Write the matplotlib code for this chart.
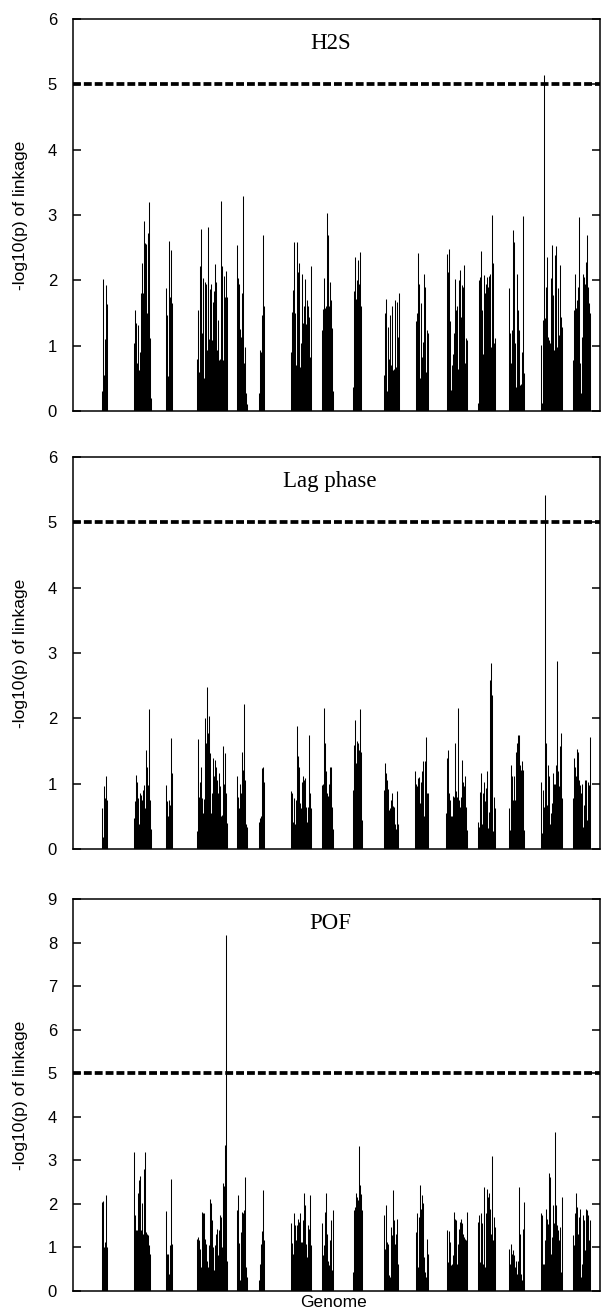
import matplotlib
matplotlib.use('Agg')

import matplotlib.pyplot as plt
import numpy as np

plt.rcParams['font.family'] = ['Liberation Sans', 'DejaVu Sans']

# chromosome blocks along the genome axis (same units as the x axis)
chrom_start = [28, 60, 92, 123, 163, 185, 217, 248, 279, 310, 342, 373, 404, 435, 467, 499]
chrom_end = [34, 78, 99, 154, 174, 191, 238, 260, 289, 326, 355, 394, 422, 451, 489, 517]
genome_len = 527
threshold = 5

# -log10(p) per marker, one list per chromosome
h2s = [
    [0.3, 2.02, 0.55, 1.1, 1.93, 1.64],
    [1.04, 1.55, 1.34, 0.73, 1.32, 0.63, 0.9, 1.8, 2.27, 1.8, 2.91, 2.57, 2.55, 1.5, 2.72, 3.2, 1.11, 0.2],
    [1.88, 1.47, 0.53, 2.6, 1.75, 2.47, 1.65],
    [0.8, 1.55, 0.6, 2.22, 2.78, 1.19, 2.04, 0.5, 1.98, 1.95, 0.93, 2.82, 1.1, 1.86, 1.95, 1.09,
     1.67, 1.83, 2.25, 1.98, 0.93, 1.4, 0.78, 0.8, 3.22, 2.22, 0.78, 2.06, 1.75, 2.15, 1.75],
    [2.54, 2.03, 1.94, 1.25, 1.14, 1.8, 3.29, 0.73, 0.98, 0.27, 0.1],
    [0.27, 0.93, 0.9, 1.47, 2.7, 1.6],
    [0.9, 1.52, 1.85, 2.58, 1.5, 0.7, 2.58, 2.13, 2.27, 0.68, 1.04, 2.1, 1.34, 1.6, 2.02, 1.33,
     1.7, 1.6, 1.44, 0.82, 2.22],
    [1.24, 1.56, 2.03, 1.57, 1.6, 3.03, 2.7, 1.6, 1.97, 1.7, 1.27, 0.3],
    [0.37, 1.83, 2.36, 1.72, 2.0, 2.31, 1.95, 2.43, 1.6],
    [0.55, 1.5, 1.71, 0.3, 1.29, 0.8, 1.47, 0.7, 1.6, 0.63, 0.65, 1.7, 0.68, 1.67, 1.14, 1.8],
    [1.38, 1.5, 2.42, 1.95, 0.5, 1.65, 0.83, 1.06, 2.09, 1.9, 0.6, 1.24, 1.19],
    [2.4, 2.13, 2.48, 1.37, 0.32, 0.7, 0.88, 1.2, 2.02, 1.55, 1.61, 0.65, 2.0, 2.16, 1.44, 1.93,
     1.9, 2.23, 0.73, 1.11, 1.09],
    [0.12, 2.0, 2.05, 2.45, 1.55, 0.88, 2.08, 1.81, 1.95, 2.05, 1.9, 2.06, 2.1, 0.98, 3.0, 2.26,
     1.04, 1.11],
    [1.88, 1.19, 0.73, 1.24, 2.77, 2.59, 1.04, 0.37, 2.1, 1.55, 1.24, 0.4, 0.42, 0.9, 2.98, 0.58],
    [1.01, 0.12, 1.39, 5.15, 1.42, 1.9, 2.36, 1.14, 1.09, 1.04, 2.03, 2.54, 1.78, 0.93, 2.39, 2.53,
     0.98, 1.88, 1.16, 2.23, 1.44, 1.29],
    [0.78, 1.55, 2.1, 1.57, 1.7, 1.9, 2.97, 0.73, 0.27, 1.14, 2.1, 2.05, 1.95, 2.28, 2.7, 1.9,
     1.65, 1.5],
]

lag_phase = [
    [0.62, 0.19, 0.97, 0.78, 1.12, 0.75],
    [0.47, 0.73, 1.14, 1.03, 0.78, 0.39, 0.85, 0.83, 0.75, 0.9, 0.98, 0.62, 1.52, 1.26, 0.98, 2.15, 0.75, 0.3],
    [0.98, 0.73, 0.5, 0.75, 0.67, 1.7, 1.16],
    [0.28, 1.68, 0.8, 1.03, 1.26, 0.78, 0.55, 0.76, 2.0, 1.62, 2.48, 1.77, 2.03, 1.47, 0.55, 0.85,
     1.4, 1.11, 1.36, 1.26, 1.06, 0.85, 1.16, 0.96, 0.5, 0.52, 1.57, 1.0, 1.47, 0.85, 0.4],
    [1.11, 0.8, 0.62, 1.0, 0.85, 1.49, 1.21, 2.22, 1.06, 0.39, 0.34],
    [0.42, 0.47, 0.5, 1.24, 1.26, 1.03],
    [0.89, 0.85, 0.42, 0.78, 0.39, 0.75, 1.88, 1.42, 1.26, 0.7, 0.62, 1.03, 1.11, 1.06, 1.08, 0.65,
     0.42, 0.65, 1.74, 0.85, 0.62],
    [0.98, 1.0, 2.16, 1.62, 1.19, 0.85, 0.81, 1.0, 1.26, 1.25, 0.65, 0.3],
    [0.9, 1.59, 1.98, 1.31, 1.65, 1.62, 1.52, 2.15, 1.49, 0.45],
    [0.9, 1.31, 1.17, 1.06, 0.92, 0.6, 0.62, 0.75, 0.85, 0.66, 0.65, 0.39, 0.3, 0.89, 0.39],
    [1.2, 1.0, 0.96, 1.08, 1.1, 0.7, 1.03, 1.19, 1.34, 0.5, 1.34, 1.72, 0.85, 0.85],
    [0.55, 1.4, 1.52, 0.85, 0.75, 0.5, 0.51, 0.81, 0.8, 1.63, 0.89, 0.8, 2.16, 0.75, 0.65, 0.8,
     1.36, 1.03, 0.96, 1.12, 0.65, 0.29],
    [0.42, 0.34, 0.88, 1.16, 0.39, 0.85, 1.03, 0.73, 0.93, 1.2, 0.32, 0.56, 2.59, 2.84, 2.36, 0.27,
     0.79, 0.62],
    [0.62, 0.29, 1.29, 1.11, 0.75, 1.11, 0.75, 1.49, 1.62, 1.75, 1.75, 1.29, 1.21, 1.34, 1.21, 0.29],
    [1.02, 0.24, 0.9, 0.65, 5.42, 1.62, 0.67, 1.29, 1.11, 0.39, 0.55, 0.7, 1.16, 1.0, 0.99, 1.29,
     2.88, 1.19, 0.96, 1.57, 1.77, 0.78],
    [0.78, 1.4, 1.26, 1.11, 1.53, 1.49, 1.06, 0.98, 0.85, 0.99, 0.34, 0.67, 1.06, 1.05, 0.45, 1.03,
     0.98, 1.71],
]

pof = [
    [2.05, 2.07, 1.01, 1.13, 2.2, 1.01],
    [3.2, 1.74, 1.39, 1.39, 2.24, 2.54, 2.64, 1.39, 2.01, 1.32, 2.79, 3.2, 1.36, 1.32, 1.28, 1.05, 0.86],
    [1.83, 0.86, 0.84, 0.4, 1.05, 2.58, 1.09],
    [1.2, 1.24, 1.16, 0.97, 0.55, 1.82, 1.78, 1.78, 1.2, 1.09, 0.7, 0.55, 1.05, 2.12, 2.01, 1.64,
     1.01, 0.48, 1.05, 1.32, 1.43, 0.82, 1.39, 1.74, 1.7, 1.01, 2.48, 2.41, 3.35, 8.18, 0.7],
    [1.85, 2.2, 1.1, 0.25, 1.36, 1.82, 1.78, 1.85, 2.62, 0.55, 0.32],
    [0.25, 0.63, 1.09, 1.38, 2.31, 1.16],
    [1.56, 1.1, 0.86, 1.78, 1.51, 1.16, 1.51, 1.66, 1.59, 1.78, 1.13, 1.13, 1.62, 2.26, 1.97, 1.09,
     0.78, 1.51, 1.43, 2.21, 1.05],
    [1.56, 0.82, 1.05, 1.82, 2.25, 1.32, 0.7, 0.59, 1.16, 1.62, 0.48, 1.87],
    [0.44, 1.85, 1.93, 2.24, 2.16, 2.08, 3.33, 2.44, 2.22, 1.85],
    [1.74, 0.97, 1.97, 1.13, 1.09, 0.36, 0.32, 1.47, 1.28, 2.33, 1.62, 1.09, 1.32, 1.66, 0.63],
    [1.36, 1.78, 0.55, 1.7, 2.43, 1.89, 2.2, 2.01, 0.78, 0.44, 0.32, 1.2, 0.86],
    [1.39, 0.67, 1.37, 1.13, 0.59, 0.63, 0.82, 1.82, 1.66, 1.62, 0.63, 1.09, 1.43, 1.59, 1.66, 1.55,
     1.32, 1.24, 1.2, 1.16, 1.82],
    [1.59, 1.74, 0.67, 1.78, 1.55, 0.63, 2.38, 0.55, 1.78, 2.35, 2.16, 2.24, 1.89, 1.32, 3.1, 1.16,
     1.7, 1.47],
    [0.97, 0.63, 1.09, 0.86, 0.93, 0.82, 0.55, 0.7, 0.4, 0.7, 2.39, 1.32, 0.4, 0.25, 1.43, 2.05],
    [1.78, 1.74, 0.63, 0.63, 1.16, 1.89, 1.66, 1.53, 2.72, 2.62, 0.86, 1.24, 1.97, 1.55, 3.66, 1.97,
     1.51, 1.39, 1.16, 1.47, 0.44, 2.16],
    [1.28, 1.05, 1.78, 2.24, 1.93, 1.32, 1.7, 1.89, 0.32, 0.63, 1.74, 1.62, 0.93, 1.89, 1.85, 1.74,
     1.16, 1.62],
]

panels = [('H2S', h2s, 6), ('Lag phase', lag_phase, 6), ('POF', pof, 9)]


def marker_positions(start, end, n):
    step = (end - start) / n
    return [start + (i + 0.5) * step for i in range(n)]


fig = plt.figure(figsize=(6.01, 13.12), dpi=100)
left = 73 / 601
width = 527 / 601
bottoms = [(1312 - 411) / 1312, (1312 - 849) / 1312, (1312 - 1291) / 1312]
height = 392 / 1312

for (name, data, ymax), bottom in zip(panels, bottoms):
    ax = fig.add_axes([left, bottom, width, height])
    for s, e, vals in zip(chrom_start, chrom_end, data):
        xs = marker_positions(s, e, len(vals))
        ax.vlines(xs, 0, vals, colors='black', linewidth=0.75)
    ax.axhline(threshold, color='black', linewidth=2.7, linestyle=(0, (2.1, 0.8)))

    ax.set_xlim(0, genome_len)
    ax.set_ylim(0, ymax)
    ax.set_yticks(range(ymax + 1))
    ax.set_xticks([])
    ax.tick_params(axis='y', direction='in', length=5.5, width=1.1, labelsize=12,
                   right=True, pad=11.5)
    for sp in ax.spines.values():
        sp.set_linewidth(1.1)
    ax.set_ylabel('-log10(p) of linkage', fontsize=12.5, labelpad=14)
    ax.text(0.488, 0.937, name, transform=ax.transAxes, ha='center', va='center',
            fontsize=16.5, family=['Liberation Serif', 'DejaVu Serif'])

ax.set_xlabel('Genome', fontsize=12.5, labelpad=0)
ax.xaxis.set_label_coords(0.494, -0.01)
ax.xaxis.label.set_va('top')

plt.savefig('out.png', dpi=100)
